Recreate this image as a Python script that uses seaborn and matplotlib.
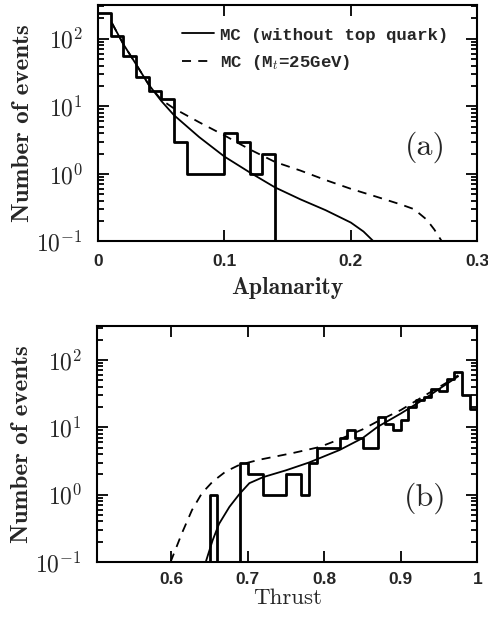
import numpy as np
import pandas as pd
import matplotlib
matplotlib.use("Agg")
import matplotlib.pyplot as plt
import seaborn as sns
from matplotlib.ticker import LogLocator, NullFormatter, NullLocator

# --- data ---
# (a) aplanarity histogram, bins of 0.01 starting at 0
aplan_left = np.round(0.01 * np.arange(15), 2)
aplan_counts = [238, 110, 55, 27, 17, 13, 3, 1, 1, 1, 4, 3, 1, 2, 0]

# MC without top quark
aplan_mc_x = [0.011, 0.02, 0.03, 0.04, 0.05, 0.06, 0.08, 0.10, 0.12, 0.14,
              0.16, 0.18, 0.20, 0.21, 0.218]
aplan_mc_y = [170, 83, 42, 21, 12, 7.4, 3.5, 1.8, 1.05, 0.63,
              0.42, 0.29, 0.19, 0.14, 0.1]
# MC with Mt = 25 GeV
aplan_top_x = [0.011, 0.02, 0.03, 0.04, 0.05, 0.06, 0.08, 0.10, 0.12, 0.14,
               0.16, 0.18, 0.20, 0.22, 0.24, 0.25, 0.26, 0.266, 0.272]
aplan_top_y = [170, 83, 42, 21, 12.5, 9.3, 5.8, 3.7, 2.3, 1.5,
               1.12, 0.81, 0.60, 0.46, 0.35, 0.30, 0.21, 0.15, 0.1]

# (b) thrust histogram, bins of 0.01 starting at 0.64
thrust_left = np.round(0.64 + 0.01 * np.arange(36), 2)
thrust_counts = [0, 1, 0, 0, 0, 3, 2, 2, 1, 1, 1, 2, 2, 1, 3, 5, 5, 5, 7, 9,
                 7, 5, 5, 14, 11, 9, 13, 20, 25, 28, 37, 35, 52, 67, 30, 19]

thrust_mc_x = [0.645, 0.654, 0.6625, 0.676, 0.689, 0.702, 0.72, 0.75, 0.78,
               0.82, 0.85, 0.87, 0.90, 0.93, 0.96, 0.975]
thrust_mc_y = [0.1, 0.21, 0.37, 0.66, 1.02, 1.48, 1.82, 2.3, 3.0,
               4.6, 6.9, 10.2, 16, 26, 44, 57]
thrust_top_x = [0.599, 0.614, 0.627, 0.640, 0.654, 0.671, 0.689, 0.715, 0.759,
                0.794, 0.821, 0.85, 0.87, 0.90, 0.93, 0.96, 0.975]
thrust_top_y = [0.1, 0.27, 0.59, 1.05, 1.56, 2.2, 2.77, 3.3, 4.15,
                5.1, 6.7, 9.3, 12.3, 18, 29, 46, 59]

aplan_ticks = [0, 0.1, 0.2, 0.3]
aplan_ticklabels = ["0", "0.1", "0.2", "0.3"]
thrust_ticks = [0.6, 0.7, 0.8, 0.9, 1.0]
thrust_ticklabels = ["0.6", "0.7", "0.8", "0.9", "1"]
y_ticks = [0.1, 1, 10, 100]
y_ticklabels = ["$10^{-1}$", "$10^{0}$", "$10^{1}$", "$10^{2}$"]

sns.set_style("ticks")
plt.rcParams["mathtext.fontset"] = "cm"
plt.rcParams["axes.linewidth"] = 1.5

fig = plt.figure(figsize=(4.88, 6.19), dpi=100)
ax1 = fig.add_axes([0.201, 0.610, 0.777, 0.382])
ax2 = fig.add_axes([0.199, 0.092, 0.779, 0.381])

tick_font = dict(fontfamily="Liberation Sans", fontweight="bold", fontsize=12.5)


def step_hist(ax, left, counts):
    df = pd.DataFrame({"x": left + 0.005, "n": counts})
    edges = np.append(left, left[-1] + 0.01).tolist()
    sns.histplot(data=df, x="x", weights="n", bins=edges, element="step",
                 fill=False, color="black", linewidth=2, ax=ax)


def style_axes(ax, xt, xtl, xlim):
    ax.set_yscale("log")
    ax.set_ylim(0.1, 10 ** 2.5)
    ax.set_xlim(*xlim)
    ax.set_xticks(xt, xtl, **tick_font)
    ax.xaxis.set_minor_locator(NullLocator())
    ax.set_yticks(y_ticks, y_ticklabels, fontsize=17)
    ax.yaxis.set_minor_locator(LogLocator(base=10, subs=np.arange(2, 10)))
    ax.yaxis.set_minor_formatter(NullFormatter())
    ax.tick_params(which="both", direction="in", top=True, right=True,
                   width=1.3, color="black")
    ax.tick_params(which="major", length=8)
    ax.tick_params(which="minor", length=4)
    ax.tick_params(axis="y", pad=11)
    ax.tick_params(axis="x", pad=9)
    ax.set_ylabel("Number of events", family="cmb10", fontsize=18,
                  labelpad=2)
    for s in ax.spines.values():
        s.set_color("black")
        s.set_linewidth(1.5)


# (a)
step_hist(ax1, aplan_left, aplan_counts)
sns.lineplot(x=aplan_mc_x, y=aplan_mc_y, color="black", linewidth=1.3,
             label="MC (without top quark)", ax=ax1)
sns.lineplot(x=aplan_top_x, y=aplan_top_y, color="black", linewidth=1.3,
             linestyle=(0, (5, 4)), label="MC (M$_t$=25GeV)", ax=ax1)
style_axes(ax1, aplan_ticks, aplan_ticklabels, (0, 0.3))
ax1.set_xlabel("Aplanarity", family="cmb10", fontsize=17, labelpad=6)
ax1.legend(loc="upper left", bbox_to_anchor=(0.222, 0.905), frameon=False,
           borderpad=0, borderaxespad=0, handlelength=1.85, handletextpad=0.3,
           labelspacing=0.6,
           prop=dict(family="Liberation Mono", weight="bold", size=12.5))
ax1.text(0.863, 0.40, "(a)", transform=ax1.transAxes, ha="center",
         va="center", family="cmr10", fontsize=23)

# (b)
step_hist(ax2, thrust_left, thrust_counts)
sns.lineplot(x=thrust_mc_x, y=thrust_mc_y, color="black", linewidth=1.3,
             ax=ax2)
sns.lineplot(x=thrust_top_x, y=thrust_top_y, color="black", linewidth=1.3,
             linestyle=(0, (5, 4)), ax=ax2)
style_axes(ax2, thrust_ticks, thrust_ticklabels, (0.503, 1.0))
ax2.tick_params(axis="x", pad=7)
ax2.set_xlabel("Thrust", family="cmr10", fontsize=16.5, labelpad=1)
ax2.text(0.863, 0.27, "(b)", transform=ax2.transAxes, ha="center",
         va="center", family="cmr10", fontsize=23)

fig.savefig("out.png", dpi=100)
